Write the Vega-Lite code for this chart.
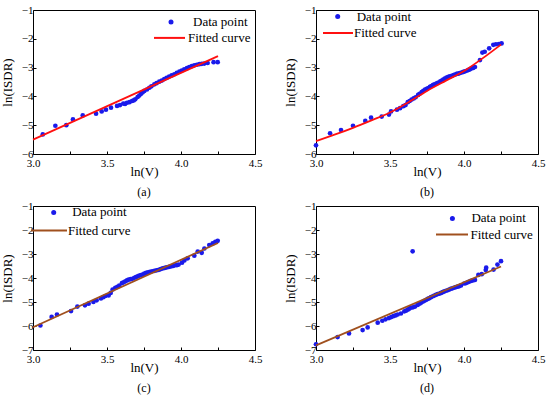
{
  "$schema": "https://vega.github.io/schema/vega-lite/v6.json",
  "padding": {"top": 3, "left": 0, "right": 1, "bottom": 0},
  "background": "white",
  "config": {
    "font": "Liberation Serif",
    "view": {"stroke": "#000", "strokeWidth": 1},
    "axis": {"domain": false, "grid": false, "tickColor": "#000", "tickSize": -3, "tickWidth": 1, "labelFont": "Liberation Serif", "labelFontSize": 11, "labelColor": "#000", "labelOverlap": false, "labelFlush": false, "titleFont": "Liberation Serif", "titleFontSize": 13, "titleFontWeight": "normal", "titleColor": "#000"},
    "axisX": {"labelPadding": 6, "titlePadding": -3},
    "axisY": {"labelPadding": 3, "titlePadding": 7},
    "title": {"font": "Liberation Serif", "fontSize": 12, "fontWeight": "normal", "color": "#000"},
    "legend": {"title": null, "padding": 0, "labelFont": "Liberation Serif", "labelFontSize": 13, "labelColor": "#000"}
  },
  "datasets": {
    "a_pts": [{"x":3.066,"y":-5.32},{"x":3.151,"y":-5.02},{"x":3.225,"y":-5.0},{"x":3.27,"y":-4.8},{"x":3.336,"y":-4.66},{"x":3.426,"y":-4.6},{"x":3.464,"y":-4.52},{"x":3.493,"y":-4.46},{"x":3.527,"y":-4.39},{"x":3.568,"y":-4.33},{"x":3.588,"y":-4.3},{"x":3.61,"y":-4.25},{"x":3.622,"y":-4.26},{"x":3.635,"y":-4.22},{"x":3.652,"y":-4.2},{"x":3.669,"y":-4.16},{"x":3.68,"y":-4.14},{"x":3.691,"y":-4.1},{"x":3.707,"y":-4.02},{"x":3.718,"y":-3.97},{"x":3.73,"y":-3.91},{"x":3.741,"y":-3.86},{"x":3.752,"y":-3.81},{"x":3.77,"y":-3.76},{"x":3.786,"y":-3.7},{"x":3.8,"y":-3.65},{"x":3.82,"y":-3.58},{"x":3.835,"y":-3.54},{"x":3.853,"y":-3.49},{"x":3.87,"y":-3.45},{"x":3.887,"y":-3.4},{"x":3.903,"y":-3.36},{"x":3.92,"y":-3.31},{"x":3.937,"y":-3.27},{"x":3.955,"y":-3.23},{"x":3.972,"y":-3.18},{"x":3.989,"y":-3.14},{"x":4.005,"y":-3.1},{"x":4.022,"y":-3.06},{"x":4.04,"y":-3.02},{"x":4.056,"y":-2.98},{"x":4.073,"y":-2.95},{"x":4.09,"y":-2.92},{"x":4.107,"y":-2.9},{"x":4.124,"y":-2.88},{"x":4.14,"y":-2.87},{"x":4.157,"y":-2.86},{"x":4.18,"y":-2.84},{"x":4.22,"y":-2.81},{"x":4.248,"y":-2.81}],
    "a_fit": [{"x":3.0,"y":-5.5},{"x":4.25,"y":-2.6}],
    "b_pts": [{"x":3.0,"y":-5.7},{"x":3.095,"y":-5.28},{"x":3.169,"y":-5.17},{"x":3.25,"y":-5.02},{"x":3.333,"y":-4.85},{"x":3.372,"y":-4.74},{"x":3.444,"y":-4.7},{"x":3.493,"y":-4.63},{"x":3.507,"y":-4.52},{"x":3.547,"y":-4.46},{"x":3.568,"y":-4.41},{"x":3.59,"y":-4.34},{"x":3.605,"y":-4.3},{"x":3.62,"y":-4.2},{"x":3.633,"y":-4.16},{"x":3.646,"y":-4.11},{"x":3.66,"y":-4.07},{"x":3.673,"y":-4.03},{"x":3.69,"y":-3.95},{"x":3.7,"y":-3.91},{"x":3.714,"y":-3.85},{"x":3.725,"y":-3.81},{"x":3.737,"y":-3.76},{"x":3.748,"y":-3.74},{"x":3.759,"y":-3.71},{"x":3.77,"y":-3.67},{"x":3.78,"y":-3.64},{"x":3.79,"y":-3.61},{"x":3.8,"y":-3.58},{"x":3.815,"y":-3.55},{"x":3.827,"y":-3.52},{"x":3.84,"y":-3.48},{"x":3.85,"y":-3.45},{"x":3.86,"y":-3.42},{"x":3.87,"y":-3.38},{"x":3.882,"y":-3.35},{"x":3.894,"y":-3.32},{"x":3.905,"y":-3.3},{"x":3.917,"y":-3.29},{"x":3.93,"y":-3.26},{"x":3.94,"y":-3.24},{"x":3.95,"y":-3.22},{"x":3.96,"y":-3.21},{"x":3.972,"y":-3.19},{"x":3.984,"y":-3.17},{"x":3.995,"y":-3.15},{"x":4.007,"y":-3.13},{"x":4.018,"y":-3.11},{"x":4.03,"y":-3.08},{"x":4.04,"y":-3.06},{"x":4.05,"y":-3.03},{"x":4.062,"y":-3.01},{"x":4.074,"y":-2.98},{"x":4.108,"y":-2.74},{"x":4.124,"y":-2.48},{"x":4.14,"y":-2.45},{"x":4.17,"y":-2.33},{"x":4.198,"y":-2.21},{"x":4.216,"y":-2.19},{"x":4.236,"y":-2.18},{"x":4.254,"y":-2.16}],
    "b_fit": [{"x":3.0,"y":-5.55},{"x":3.125,"y":-5.33},{"x":3.25,"y":-5.09},{"x":3.375,"y":-4.83},{"x":3.5,"y":-4.56},{"x":3.625,"y":-4.2},{"x":3.75,"y":-3.81},{"x":3.875,"y":-3.46},{"x":4.0,"y":-3.12},{"x":4.125,"y":-2.68},{"x":4.25,"y":-2.2}],
    "c_pts": [{"x":3.05,"y":-5.98},{"x":3.126,"y":-5.62},{"x":3.162,"y":-5.52},{"x":3.257,"y":-5.38},{"x":3.3,"y":-5.19},{"x":3.351,"y":-5.14},{"x":3.376,"y":-5.07},{"x":3.408,"y":-5.0},{"x":3.43,"y":-4.93},{"x":3.459,"y":-4.85},{"x":3.475,"y":-4.8},{"x":3.489,"y":-4.75},{"x":3.511,"y":-4.73},{"x":3.525,"y":-4.62},{"x":3.538,"y":-4.48},{"x":3.556,"y":-4.41},{"x":3.57,"y":-4.37},{"x":3.583,"y":-4.32},{"x":3.601,"y":-4.21},{"x":3.612,"y":-4.18},{"x":3.624,"y":-4.14},{"x":3.635,"y":-4.1},{"x":3.646,"y":-4.07},{"x":3.66,"y":-4.05},{"x":3.673,"y":-4.03},{"x":3.685,"y":-3.99},{"x":3.696,"y":-3.96},{"x":3.707,"y":-3.93},{"x":3.718,"y":-3.9},{"x":3.73,"y":-3.88},{"x":3.741,"y":-3.86},{"x":3.752,"y":-3.82},{"x":3.764,"y":-3.79},{"x":3.777,"y":-3.76},{"x":3.79,"y":-3.74},{"x":3.805,"y":-3.72},{"x":3.82,"y":-3.7},{"x":3.835,"y":-3.68},{"x":3.85,"y":-3.66},{"x":3.863,"y":-3.63},{"x":3.876,"y":-3.6},{"x":3.89,"y":-3.58},{"x":3.903,"y":-3.56},{"x":3.918,"y":-3.54},{"x":3.932,"y":-3.52},{"x":3.947,"y":-3.5},{"x":3.962,"y":-3.47},{"x":3.973,"y":-3.46},{"x":3.984,"y":-3.44},{"x":4.007,"y":-3.36},{"x":4.023,"y":-3.27},{"x":4.045,"y":-3.18},{"x":4.09,"y":-3.07},{"x":4.113,"y":-2.9},{"x":4.14,"y":-2.95},{"x":4.158,"y":-2.77},{"x":4.191,"y":-2.63},{"x":4.214,"y":-2.56},{"x":4.232,"y":-2.49},{"x":4.248,"y":-2.45}],
    "c_fit": [{"x":3.0,"y":-6.05},{"x":4.25,"y":-2.54}],
    "d_pts": [{"x":3.0,"y":-6.76},{"x":3.146,"y":-6.46},{"x":3.223,"y":-6.31},{"x":3.315,"y":-6.17},{"x":3.349,"y":-6.06},{"x":3.417,"y":-5.86},{"x":3.448,"y":-5.78},{"x":3.47,"y":-5.72},{"x":3.493,"y":-5.67},{"x":3.508,"y":-5.63},{"x":3.523,"y":-5.59},{"x":3.538,"y":-5.56},{"x":3.552,"y":-5.52},{"x":3.574,"y":-5.48},{"x":3.597,"y":-5.39},{"x":3.608,"y":-5.36},{"x":3.62,"y":-5.32},{"x":3.63,"y":-5.28},{"x":3.64,"y":-5.24},{"x":3.653,"y":-2.89},{"x":3.655,"y":-5.22},{"x":3.669,"y":-5.19},{"x":3.687,"y":-5.12},{"x":3.7,"y":-5.07},{"x":3.71,"y":-5.03},{"x":3.72,"y":-4.99},{"x":3.732,"y":-4.95},{"x":3.745,"y":-4.91},{"x":3.755,"y":-4.87},{"x":3.766,"y":-4.84},{"x":3.777,"y":-4.8},{"x":3.79,"y":-4.76},{"x":3.8,"y":-4.73},{"x":3.81,"y":-4.7},{"x":3.822,"y":-4.67},{"x":3.835,"y":-4.65},{"x":3.845,"y":-4.62},{"x":3.856,"y":-4.59},{"x":3.867,"y":-4.56},{"x":3.878,"y":-4.53},{"x":3.89,"y":-4.51},{"x":3.9,"y":-4.48},{"x":3.91,"y":-4.45},{"x":3.922,"y":-4.43},{"x":3.935,"y":-4.4},{"x":3.946,"y":-4.38},{"x":3.957,"y":-4.36},{"x":3.968,"y":-4.34},{"x":3.98,"y":-4.31},{"x":4.002,"y":-4.23},{"x":4.013,"y":-4.21},{"x":4.025,"y":-4.18},{"x":4.036,"y":-4.15},{"x":4.047,"y":-4.12},{"x":4.06,"y":-4.1},{"x":4.074,"y":-4.08},{"x":4.097,"y":-3.87},{"x":4.12,"y":-3.84},{"x":4.147,"y":-3.67},{"x":4.15,"y":-3.57},{"x":4.2,"y":-3.65},{"x":4.226,"y":-3.44},{"x":4.25,"y":-3.3}],
    "d_fit": [{"x":3.0,"y":-6.81},{"x":4.25,"y":-3.52}]
  },
  "spacing": 0,
  "resolve": {"scale": {"color": "independent", "stroke": "independent"}, "legend": {"color": "independent", "stroke": "independent"}},
  "vconcat": [
    {
      "spacing": 20,
      "resolve": {"scale": {"color": "independent", "stroke": "independent"}, "legend": {"color": "independent", "stroke": "independent"}},
      "hconcat": [
        {
          "width": 222, "height": 144,
          "title": {"text": "(a)", "orient": "bottom", "offset": 9},
          "layer": [
            {"data": {"name": "a_pts"}, "mark": {"type": "point", "filled": true, "size": 22, "opacity": 1},
             "encoding": {
               "x": {"field": "x", "type": "quantitative", "scale": {"domain": [3, 4.5], "nice": false, "zero": false}, "axis": {"title": "ln(V)", "values": [3, 3.25, 3.5, 3.75, 4, 4.25, 4.5], "tickCount": 20, "labelExpr": "(datum.value * 2) % 1 == 0 ? format(datum.value, '.1f') : ''"}},
               "y": {"field": "y", "type": "quantitative", "scale": {"domain": [-6, -1], "nice": false, "zero": false}, "axis": {"title": "ln(ISDR)", "tickCount": 5, "format": "d"}},
               "color": {"datum": "Data point", "type": "nominal", "scale": {"range": ["#1a1aeb"]}, "legend": {"orient": "none", "legendX": 131.5, "legendY": 5.5, "symbolType": "circle", "symbolSize": 25, "labelOffset": 15.5}}
             }},
            {"data": {"name": "a_fit"}, "mark": {"type": "line", "strokeWidth": 1.8},
             "encoding": {
               "x": {"field": "x", "type": "quantitative"},
               "y": {"field": "y", "type": "quantitative"},
               "stroke": {"datum": "Fitted curve", "type": "nominal", "scale": {"range": ["#ff1010"]}, "legend": {"orient": "none", "legendX": 120, "legendY": 11.4, "symbolType": "stroke", "symbolSize": 961, "symbolStrokeWidth": 2, "labelOffset": 2}}
             }}
          ]
        },
        {
          "width": 222, "height": 144,
          "title": {"text": "(b)", "orient": "bottom", "offset": 9},
          "layer": [
            {"data": {"name": "b_pts"}, "mark": {"type": "point", "filled": true, "size": 22, "opacity": 1},
             "encoding": {
               "x": {"field": "x", "type": "quantitative", "scale": {"domain": [3, 4.5], "nice": false, "zero": false}, "axis": {"title": "ln(V)", "values": [3, 3.25, 3.5, 3.75, 4, 4.25, 4.5], "tickCount": 20, "labelExpr": "(datum.value * 2) % 1 == 0 ? format(datum.value, '.1f') : ''"}},
               "y": {"field": "y", "type": "quantitative", "scale": {"domain": [-6, -1], "nice": false, "zero": false}, "axis": {"title": "ln(ISDR)", "tickCount": 5, "format": "d"}},
               "color": {"datum": "Data point", "type": "nominal", "scale": {"range": ["#1a1aeb"]}, "legend": {"orient": "none", "legendX": 15.2, "legendY": 0, "symbolType": "circle", "symbolSize": 25, "labelOffset": 12.5}}
             }},
            {"data": {"name": "b_fit"}, "mark": {"type": "line", "strokeWidth": 1.8, "interpolate": "monotone"},
             "encoding": {
               "x": {"field": "x", "type": "quantitative"},
               "y": {"field": "y", "type": "quantitative"},
               "stroke": {"datum": "Fitted curve", "type": "nominal", "scale": {"range": ["#ff1010"]}, "legend": {"orient": "none", "legendX": 6, "legendY": 7, "symbolType": "stroke", "symbolSize": 900, "symbolStrokeWidth": 2, "labelOffset": 0}}
             }}
          ]
        }
      ]
    },
    {
      "spacing": 20,
      "resolve": {"scale": {"color": "independent", "stroke": "independent"}, "legend": {"color": "independent", "stroke": "independent"}},
      "hconcat": [
        {
          "width": 222, "height": 144,
          "title": {"text": "(c)", "orient": "bottom", "offset": 9},
          "layer": [
            {"data": {"name": "c_pts"}, "mark": {"type": "point", "filled": true, "size": 22, "opacity": 1},
             "encoding": {
               "x": {"field": "x", "type": "quantitative", "scale": {"domain": [3, 4.5], "nice": false, "zero": false}, "axis": {"title": "ln(V)", "values": [3, 3.25, 3.5, 3.75, 4, 4.25, 4.5], "tickCount": 20, "labelExpr": "(datum.value * 2) % 1 == 0 ? format(datum.value, '.1f') : ''"}},
               "y": {"field": "y", "type": "quantitative", "scale": {"domain": [-7, -1], "nice": false, "zero": false}, "axis": {"title": "ln(ISDR)", "tickCount": 6, "format": "d"}},
               "color": {"datum": "Data point", "type": "nominal", "scale": {"range": ["#1a1aeb"]}, "legend": {"orient": "none", "legendX": 14.2, "legendY": -0.1, "symbolType": "circle", "symbolSize": 25, "labelOffset": 12}}
             }},
            {"data": {"name": "c_fit"}, "mark": {"type": "line", "strokeWidth": 1.8},
             "encoding": {
               "x": {"field": "x", "type": "quantitative"},
               "y": {"field": "y", "type": "quantitative"},
               "stroke": {"datum": "Fitted curve", "type": "nominal", "scale": {"range": ["#a0501e"]}, "legend": {"orient": "none", "legendX": -3, "legendY": 5.5, "symbolType": "stroke", "symbolSize": 1296, "symbolStrokeWidth": 2, "labelOffset": 0}}
             }}
          ]
        },
        {
          "width": 222, "height": 144,
          "title": {"text": "(d)", "orient": "bottom", "offset": 9},
          "layer": [
            {"data": {"name": "d_pts"}, "mark": {"type": "point", "filled": true, "size": 22, "opacity": 1},
             "encoding": {
               "x": {"field": "x", "type": "quantitative", "scale": {"domain": [3, 4.5], "nice": false, "zero": false}, "axis": {"title": "ln(V)", "values": [3, 3.25, 3.5, 3.75, 4, 4.25, 4.5], "tickCount": 20, "labelExpr": "(datum.value * 2) % 1 == 0 ? format(datum.value, '.1f') : ''"}},
               "y": {"field": "y", "type": "quantitative", "scale": {"domain": [-7, -1], "nice": false, "zero": false}, "axis": {"title": "ln(ISDR)", "tickCount": 6, "format": "d"}},
               "color": {"datum": "Data point", "type": "nominal", "scale": {"range": ["#1a1aeb"]}, "legend": {"orient": "none", "legendX": 129.9, "legendY": 5.9, "symbolType": "circle", "symbolSize": 25, "labelOffset": 12.5}}
             }},
            {"data": {"name": "d_fit"}, "mark": {"type": "line", "strokeWidth": 1.8},
             "encoding": {
               "x": {"field": "x", "type": "quantitative"},
               "y": {"field": "y", "type": "quantitative"},
               "stroke": {"datum": "Fitted curve", "type": "nominal", "scale": {"range": ["#a0501e"]}, "legend": {"orient": "none", "legendX": 119, "legendY": 11.5, "symbolType": "stroke", "symbolSize": 1024, "symbolStrokeWidth": 2, "labelOffset": 1.4}}
             }}
          ]
        }
      ]
    }
  ]
}
